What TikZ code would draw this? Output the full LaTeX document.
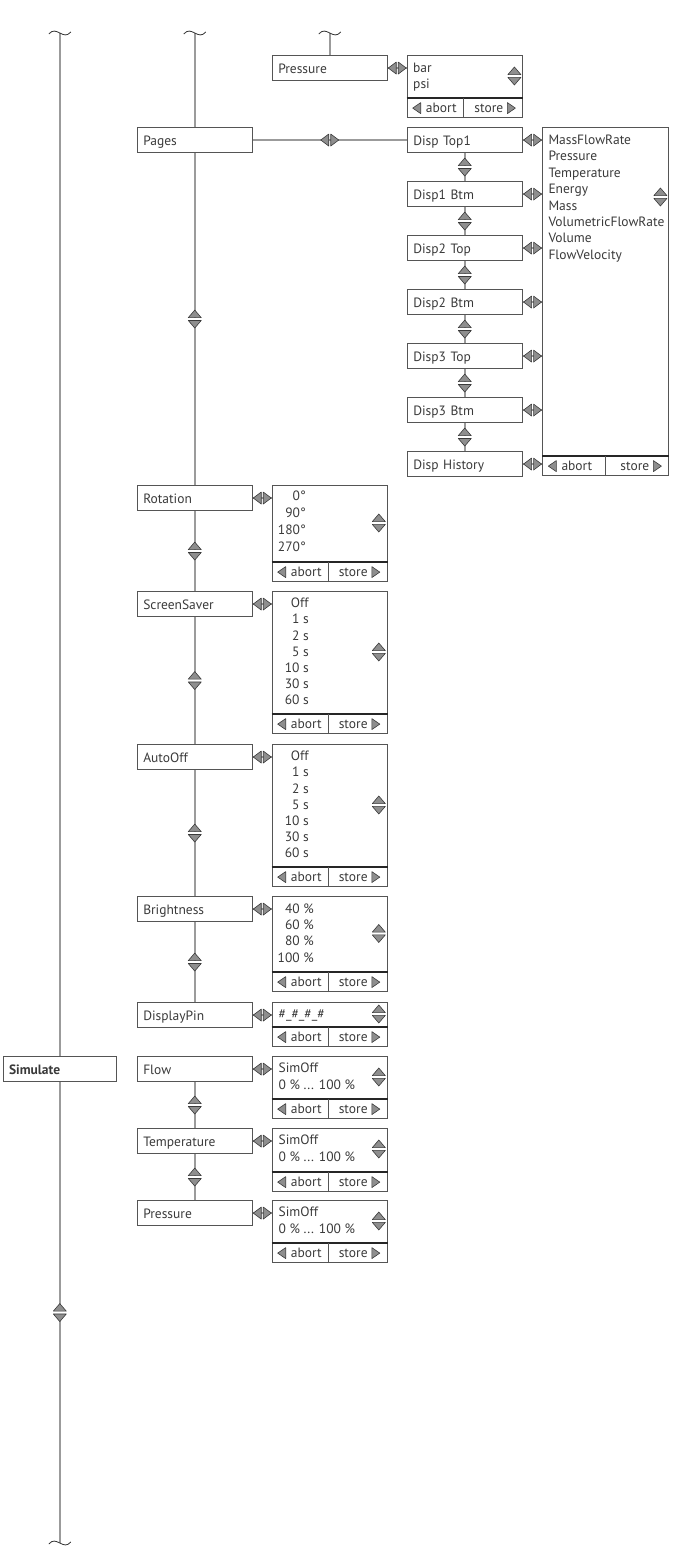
\documentclass[tikz,border=0pt]{standalone}
\usepackage{fontspec}
\setmainfont{PT Sans}
\usetikzlibrary{calc}
\definecolor{conn}{HTML}{9B9B9B}
\definecolor{frame}{HTML}{555555}
\definecolor{txt}{HTML}{3A3A3A}
\definecolor{trifill}{HTML}{8E8E8E}
\definecolor{tridraw}{HTML}{3A3A3A}
\tikzset{
  conline/.style={draw=conn, line width=2.2pt},
  boxline/.style={draw=frame, line width=1.1pt},
  divline/.style={draw=black!85, line width=1.5pt},
  tri/.style={fill=trifill, draw=tridraw, line width=0.6pt, line join=round},
  menubox/.style={draw=frame, line width=1.1pt, anchor=north west, minimum width=115pt,
    minimum height=25pt, inner xsep=6pt, inner ysep=0pt, text width=103pt, align=left,
    text height=11pt, text depth=0pt, font=\fontsize{13.5}{16}\selectfont, text=txt},
  valframe/.style={draw=frame, line width=1.1pt, anchor=north west, inner sep=0pt},
  itm/.style={inner sep=0pt, font=\fontsize{13.5}{16}\selectfont, text=txt},
  lr/.pic={
    \filldraw[tri] (-9,0) -- (-1,-6) -- (-1,6) -- cycle;
    \filldraw[tri] (9,0) -- (1,-6) -- (1,6) -- cycle;},
  ud/.pic={
    \fill[white] (-7,-1.4) rectangle (7,1.4);
    \filldraw[tri] (-6.5,-1.4) -- (6.5,-1.4) -- (0,-9) -- cycle;
    \filldraw[tri] (-6.5,1.4) -- (6.5,1.4) -- (0,9) -- cycle;},
  ltri/.pic={\filldraw[tri] (0,0) -- (8,-5.5) -- (8,5.5) -- cycle;},
  rtri/.pic={\filldraw[tri] (0,0) -- (-8,-5.5) -- (-8,5.5) -- cycle;},
  tilde/.pic={\draw[black!80, line width=0.8pt] (-11,1) .. controls (-7,-3.5) and (-4,-2) .. (0,0)
     .. controls (4,2) and (7,3.5) .. (11,-1);}
}
% name, x, y, width, height, split, ud-y
\newcommand\valbox[7]{%
  \node[valframe, minimum width=#4pt, minimum height=#5pt] (#1) at (#2,#3) {};
  \coordinate (#1-dl) at ($(#1.south west)+(0,-20)$);
  \coordinate (#1-dr) at ($(#1.south east)+(0,-20)$);
  \draw[divline] (#1-dl) -- (#1-dr);
  \draw[boxline] ($(#1.south west)+(#6,0)$) -- ($(#1-dl)+(#6,0)$);
  \pic at ($(#1.south west)+(6,-10)$) {ltri};
  \node[itm, anchor=base west] (#1-abort) at ($(#1.south west)+(19,-5.5)$) {abort};
  \node[itm, anchor=base east] (#1-store) at ($(#1.south east)+(-20,-5.5)$) {store};
  \pic at ($(#1.south east)+(-8,-10)$) {rtri};
  \coordinate (#1-ne) at ($(#1.north east)+(-9,0)$);
  \pic at (#1-ne |- 0,#7) {ud};
}
\begin{document}
\begin{tikzpicture}[x=1pt,y=-1pt]
\useasboundingbox (0,0) rectangle (689,1563);
% ---------- column A
\node[menubox, minimum width=113.5pt, text width=101.5pt, inner xsep=5pt,
  font=\fontsize{13.5}{16}\selectfont\bfseries] (sim) at (2.5,1056) {Simulate};
\coordinate (a-top) at (sim.north |- 0,33);
\coordinate (a-bot) at (sim.north |- 0,1543);
\draw[conline] (a-top) -- (sim.north);
\draw[conline] (sim.south) -- (a-bot);
\pic at (a-top) {tilde};
\pic at (a-bot) {tilde};
\pic at ($(sim.south)!.5!(a-bot)$) {ud};
% ---------- column B
\node[menubox] (pages) at (136.7,127) {Pages};
\node[menubox] (rot) at (136.7,485) {Rotation};
\node[menubox] (ss) at (136.7,591) {ScreenSaver};
\node[menubox] (ao) at (136.7,744) {AutoOff};
\node[menubox] (br) at (136.7,896) {Brightness};
\node[menubox] (pin) at (136.7,1002) {DisplayPin};
\node[menubox] (flow) at (136.7,1056) {Flow};
\node[menubox] (temp) at (136.7,1128) {Temperature};
\node[menubox] (pres) at (136.7,1200) {Pressure};
\coordinate (b-top) at (pages.north |- 0,33);
\draw[conline] (b-top) -- (pages.north);
\pic at (b-top) {tilde};
\foreach \p/\q in {pages/rot, rot/ss, ss/ao, ao/br, br/pin, flow/temp, temp/pres}{
  \draw[conline] (\p.south) -- (\q.north);
  \pic at ($(\p.south)!.5!(\q.north)$) {ud};
}
% ---------- column C (unit)
\node[menubox] (pu) at (271.7,55) {Pressure};
\coordinate (c-top) at (pu.north |- 0,33);
\draw[conline] (c-top) -- (pu.north);
\pic at (c-top) {tilde};
\valbox{puv}{406.7}{55}{115.6}{62}{57}{76}
\foreach \t [count=\i] in {bar,psi}
  \node[itm, anchor=base west] (puv-\i) at (413,{72+16.4*(\i-1)}) {\t};
\draw[conline] (pu.east) -- (pu.east -| puv.west);
\pic at ($(pu.east)!.5!(pu.east -| puv.west)$) {lr};
% ---------- display pages
\node[menubox] (d1) at (406.7,127) {Disp Top1};
\node[menubox] (d2) at (406.7,181) {Disp1 Btm};
\node[menubox] (d3) at (406.7,235) {Disp2 Top};
\node[menubox] (d4) at (406.7,289) {Disp2 Btm};
\node[menubox] (d5) at (406.7,343) {Disp3 Top};
\node[menubox] (d6) at (406.7,397) {Disp3 Btm};
\node[menubox] (d7) at (406.7,451) {Disp History};
\draw[conline] (pages.east) -- (pages.east -| d1.west);
\pic at ($(pages.east)!.5!(pages.east -| d1.west)$) {lr};
\foreach \p/\q in {d1/d2, d2/d3, d3/d4, d4/d5, d5/d6, d6/d7}{
  \draw[conline] (\p.south) -- (\q.north);
  \pic at ($(\p.south)!.5!(\q.north)$) {ud};
}
\valbox{dv}{542.3}{127}{126}{348}{63}{197}
\foreach \t [count=\i] in {MassFlowRate,Pressure,Temperature,Energy,Mass,VolumetricFlowRate,Volume,FlowVelocity}
  \node[itm, anchor=base west] (dv-\i) at (548.3,{144.3+16.43*(\i-1)}) {\t};
\foreach \d in {d1,d2,d3,d4,d5,d6,d7}{
  \draw[conline] (\d.east) -- (\d.east -| dv.west);
  \pic at ($(\d.east)!.5!(\d.east -| dv.west)$) {lr};
}
% ---------- Rotation
\valbox{rv}{271.7}{485}{115}{96}{57}{523}
\foreach \t [count=\i] in {0°,90°,180°,270°}
  \node[itm, anchor=base east] (rv-\i) at (306,{500.7+16.9*(\i-1)}) {\t};
% ---------- ScreenSaver
\valbox{sv}{271.7}{591}{115}{142}{57}{652}
\foreach \t [count=\i] in {Off,1 s,2 s,5 s,10 s,30 s,60 s}
  \node[itm, anchor=base east] (sv-\i) at (309,{607.6+16.2*(\i-1)}) {\t};
% ---------- AutoOff
\valbox{av}{271.7}{744}{115}{142}{57}{805}
\foreach \t [count=\i] in {Off,1 s,2 s,5 s,10 s,30 s,60 s}
  \node[itm, anchor=base east] (av-\i) at (309,{760.6+16.2*(\i-1)}) {\t};
% ---------- Brightness
\valbox{bv}{271.7}{896}{115}{95}{57}{933.5}
\foreach \t [count=\i] in {40 \%,60 \%,80 \%,100 \%}
  \node[itm, anchor=base east] (bv-\i) at (314,{913+16.4*(\i-1)}) {\t};
% ---------- DisplayPin
\valbox{pv}{271.7}{1002}{115}{44}{57}{1014}
\node[itm, anchor=base west] (pv-1) at (278.5,1018.5) {\#\_\#\_\#\_\#};
% ---------- Simulate values
\valbox{fv}{271.7}{1056}{115}{62}{57}{1077}
\valbox{tv}{271.7}{1128}{115}{63}{57}{1149}
\valbox{sv2}{271.7}{1200}{115}{62}{57}{1221}
\foreach \v/\y in {fv/1056, tv/1128, sv2/1200}{
  \node[itm, anchor=base west] (\v-1) at (278.5,{\y+16.3}) {SimOff};
  \node[itm, anchor=base west] (\v-2) at (278.5,{\y+33}) {0 \% ... 100 \%};
}
\foreach \m/\v in {rot/rv, ss/sv, ao/av, br/bv, pin/pv, flow/fv, temp/tv, pres/sv2}{
  \draw[conline] (\m.east) -- (\m.east -| \v.west);
  \pic at ($(\m.east)!.5!(\m.east -| \v.west)$) {lr};
}
\end{tikzpicture}
\end{document}
